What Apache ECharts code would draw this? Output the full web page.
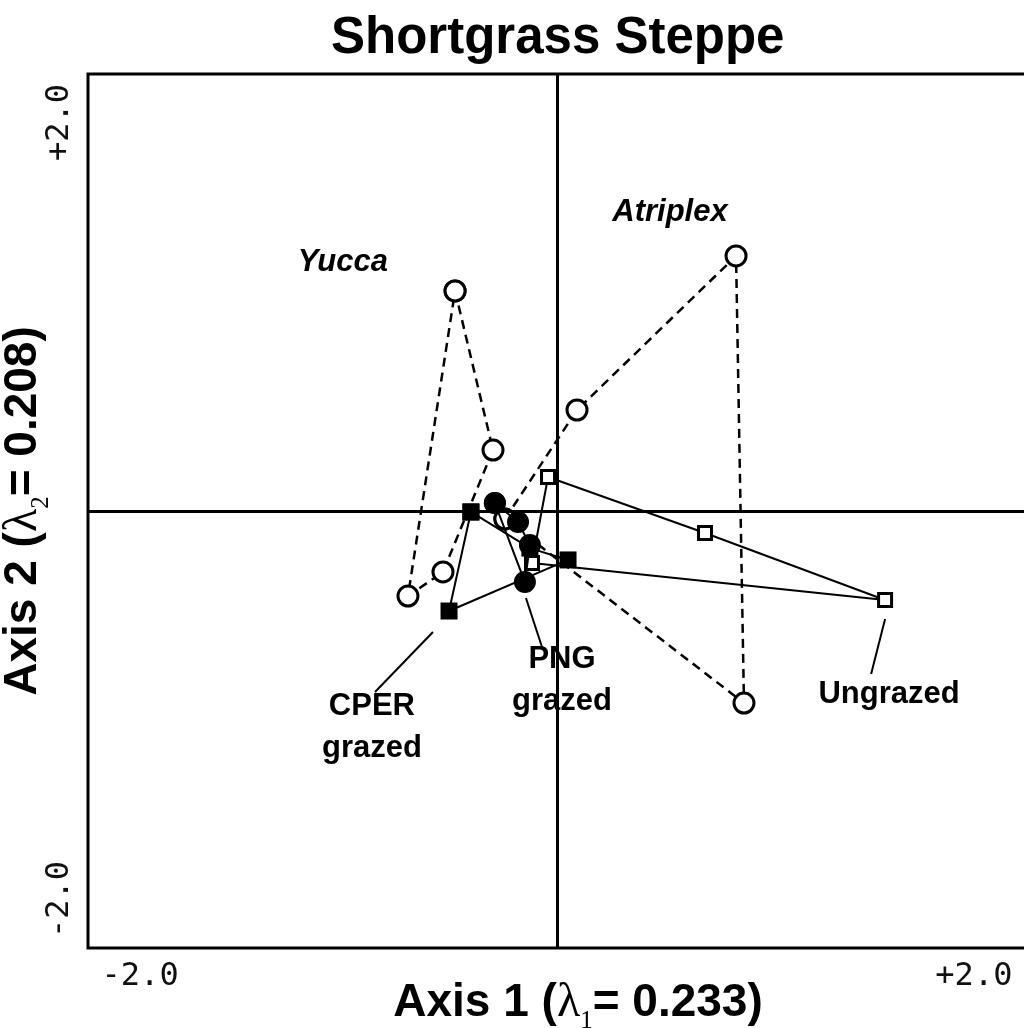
<!DOCTYPE html>
<html>
<head>
<meta charset="utf-8">
<script src="https://cdn.jsdelivr.net/npm/echarts@6/dist/echarts.min.js"></script>
<style>
  html, body { margin: 0; padding: 0; background: #fff; }
  #chart { width: 1024px; height: 1028px; }
</style>
</head>
<body>
<div id="chart"></div>
<script>
// site trajectories on the first two ordination axes, [axis1, axis2]
const yucca = [[-0.489, 1.133], [-0.307, 0.314], [-0.547, -0.314], [-0.715, -0.438]];
const atriplex = [[-0.250, -0.041], [0.096, 0.520], [0.859, 1.313], [0.897, -0.989]];
const ungrazed = [[-0.043, 0.175], [0.710, -0.113], [1.574, -0.458], [-0.120, -0.268]];
const cperGrazed = [[-0.413, -0.005], [-0.518, -0.515], [0.053, -0.252], [-0.130, -0.191]];
const pngGrazed = [[-0.298, 0.041], [-0.187, -0.057], [-0.130, -0.175], [-0.154, -0.366]];
const tickValues = [-2, 2];

const chart = echarts.init(document.getElementById("chart"));

// close each loop back to its first point
function loop(pts) {
  return pts.concat([pts[0]]);
}

const sans = "Liberation Sans, Arial, sans-serif";
const serif = "Liberation Serif, Times New Roman, serif";

const nameRich = {
  t: { fontFamily: sans, fontWeight: "bold", fontSize: 46, color: "#000", lineHeight: 62 },
  l: { fontFamily: serif, fontSize: 48, color: "#000", lineHeight: 62 },
  s: { fontFamily: serif, fontSize: 25, color: "#000", verticalAlign: "bottom", lineHeight: 26 },
};

const openSym = { color: "#fff", borderColor: "#000", borderWidth: 3 };

chart.setOption({
  animation: false,
  title: {
    text: "Shortgrass Steppe",
    left: 326,
    top: 8,
    textStyle: { fontFamily: sans, fontWeight: "bold", fontSize: 51, color: "#000" },
  },
  grid: {
    left: 88,
    top: 74,
    right: -2,
    bottom: 80,
    containLabel: false,
    outerBoundsMode: "none",
    show: true,
    borderColor: "#000",
    borderWidth: 3,
  },
  xAxis: {
    type: "value",
    min: -2.25,
    max: 2.25,
    axisLine: { show: false },
    axisTick: { show: false },
    splitLine: { show: false },
    axisLabel: {
      customValues: tickValues,
      formatter: (v) => (v > 0 ? "+" : "") + v.toFixed(1),
      fontFamily: "DejaVu Sans Mono, monospace",
      fontSize: 32,
      color: "#111",
      margin: 13,
    },
    name: "{t|Axis 1 (}{l|λ}{s|1}{t|= 0.233)}",
    nameLocation: "middle",
    nameGap: 24,
    nameMoveOverlap: false,
    nameTextStyle: { rich: nameRich, padding: [0, 0, 0, 42] },
  },
  yAxis: {
    type: "value",
    min: -2.25,
    max: 2.25,
    axisLine: { show: false },
    axisTick: { show: false },
    splitLine: { show: false },
    axisLabel: {
      customValues: tickValues,
      formatter: (v) => (v > 0 ? "+" : "") + v.toFixed(1),
      rotate: 90,
      fontFamily: "DejaVu Sans Mono, monospace",
      fontSize: 32,
      color: "#111",
      margin: 12,
    },
    name: "{t|Axis 2 (}{l|λ}{s|2}{t|= 0.208)}",
    nameLocation: "middle",
    nameRotate: 90,
    nameGap: 34,
    nameMoveOverlap: false,
    nameTextStyle: { rich: nameRich },
  },
  series: [
    {
      name: "Yucca",
      type: "line",
      data: loop(yucca),
      symbol: "circle",
      symbolSize: 20,
      itemStyle: openSym,
      lineStyle: { color: "#000", width: 2.5, type: [9, 6] },
      markLine: {
        silent: true,
        symbol: ["none", "none"],
        label: { show: false },
        lineStyle: { color: "#000", width: 3, type: "solid" },
        data: [{ xAxis: 0 }, { yAxis: 0 }],
      },
      z: 2,
    },
    {
      name: "Atriplex",
      type: "line",
      data: loop(atriplex),
      symbol: "circle",
      symbolSize: 20,
      itemStyle: openSym,
      lineStyle: { color: "#000", width: 2.5, type: [9, 6] },
      z: 3,
    },
    {
      name: "Ungrazed",
      type: "line",
      data: loop(ungrazed),
      symbol: "rect",
      symbolSize: 13,
      itemStyle: openSym,
      lineStyle: { color: "#000", width: 2 },
      z: 4,
    },
    {
      name: "CPER grazed",
      type: "line",
      data: loop(cperGrazed),
      symbol: "rect",
      symbolSize: 17,
      itemStyle: { color: "#000" },
      lineStyle: { color: "#000", width: 2 },
      z: 5,
    },
    {
      name: "PNG grazed",
      type: "line",
      data: loop(pngGrazed),
      symbol: "circle",
      symbolSize: 22,
      itemStyle: { color: "#000" },
      lineStyle: { color: "#000", width: 2 },
      z: 6,
    },
    {
      // text labels and their leader lines
      name: "notes",
      type: "scatter",
      symbolSize: 0,
      silent: true,
      itemStyle: { opacity: 1 },
      label: {
        show: true,
        position: "inside",
        formatter: "{b}",
        fontFamily: sans,
        fontWeight: "bold",
        fontSize: 31,
        lineHeight: 42,
        color: "#000",
        textBorderWidth: 0,
      },
      data: [
        { name: "Yucca", value: [-1.027, 1.282], label: { fontStyle: "italic" } },
        { name: "Atriplex", value: [0.542, 1.535], label: { fontStyle: "italic" } },
        { name: "CPER\ngrazed", value: [-0.888, -1.117] },
        { name: "PNG\ngrazed", value: [0.024, -0.875] },
        { name: "Ungrazed", value: [1.593, -0.947] },
      ],
      markLine: {
        silent: true,
        symbol: ["none", "none"],
        label: { show: false },
        lineStyle: { color: "#000", width: 2, type: "solid" },
        data: [
          [{ coord: [-0.595, -0.623] }, { coord: [-0.873, -0.932] }],
          [{ coord: [-0.149, -0.448] }, { coord: [-0.072, -0.700] }],
          [{ coord: [1.574, -0.556] }, { coord: [1.507, -0.839] }],
        ],
      },
      z: 7,
    },
  ],
});
</script>
</body>
</html>
